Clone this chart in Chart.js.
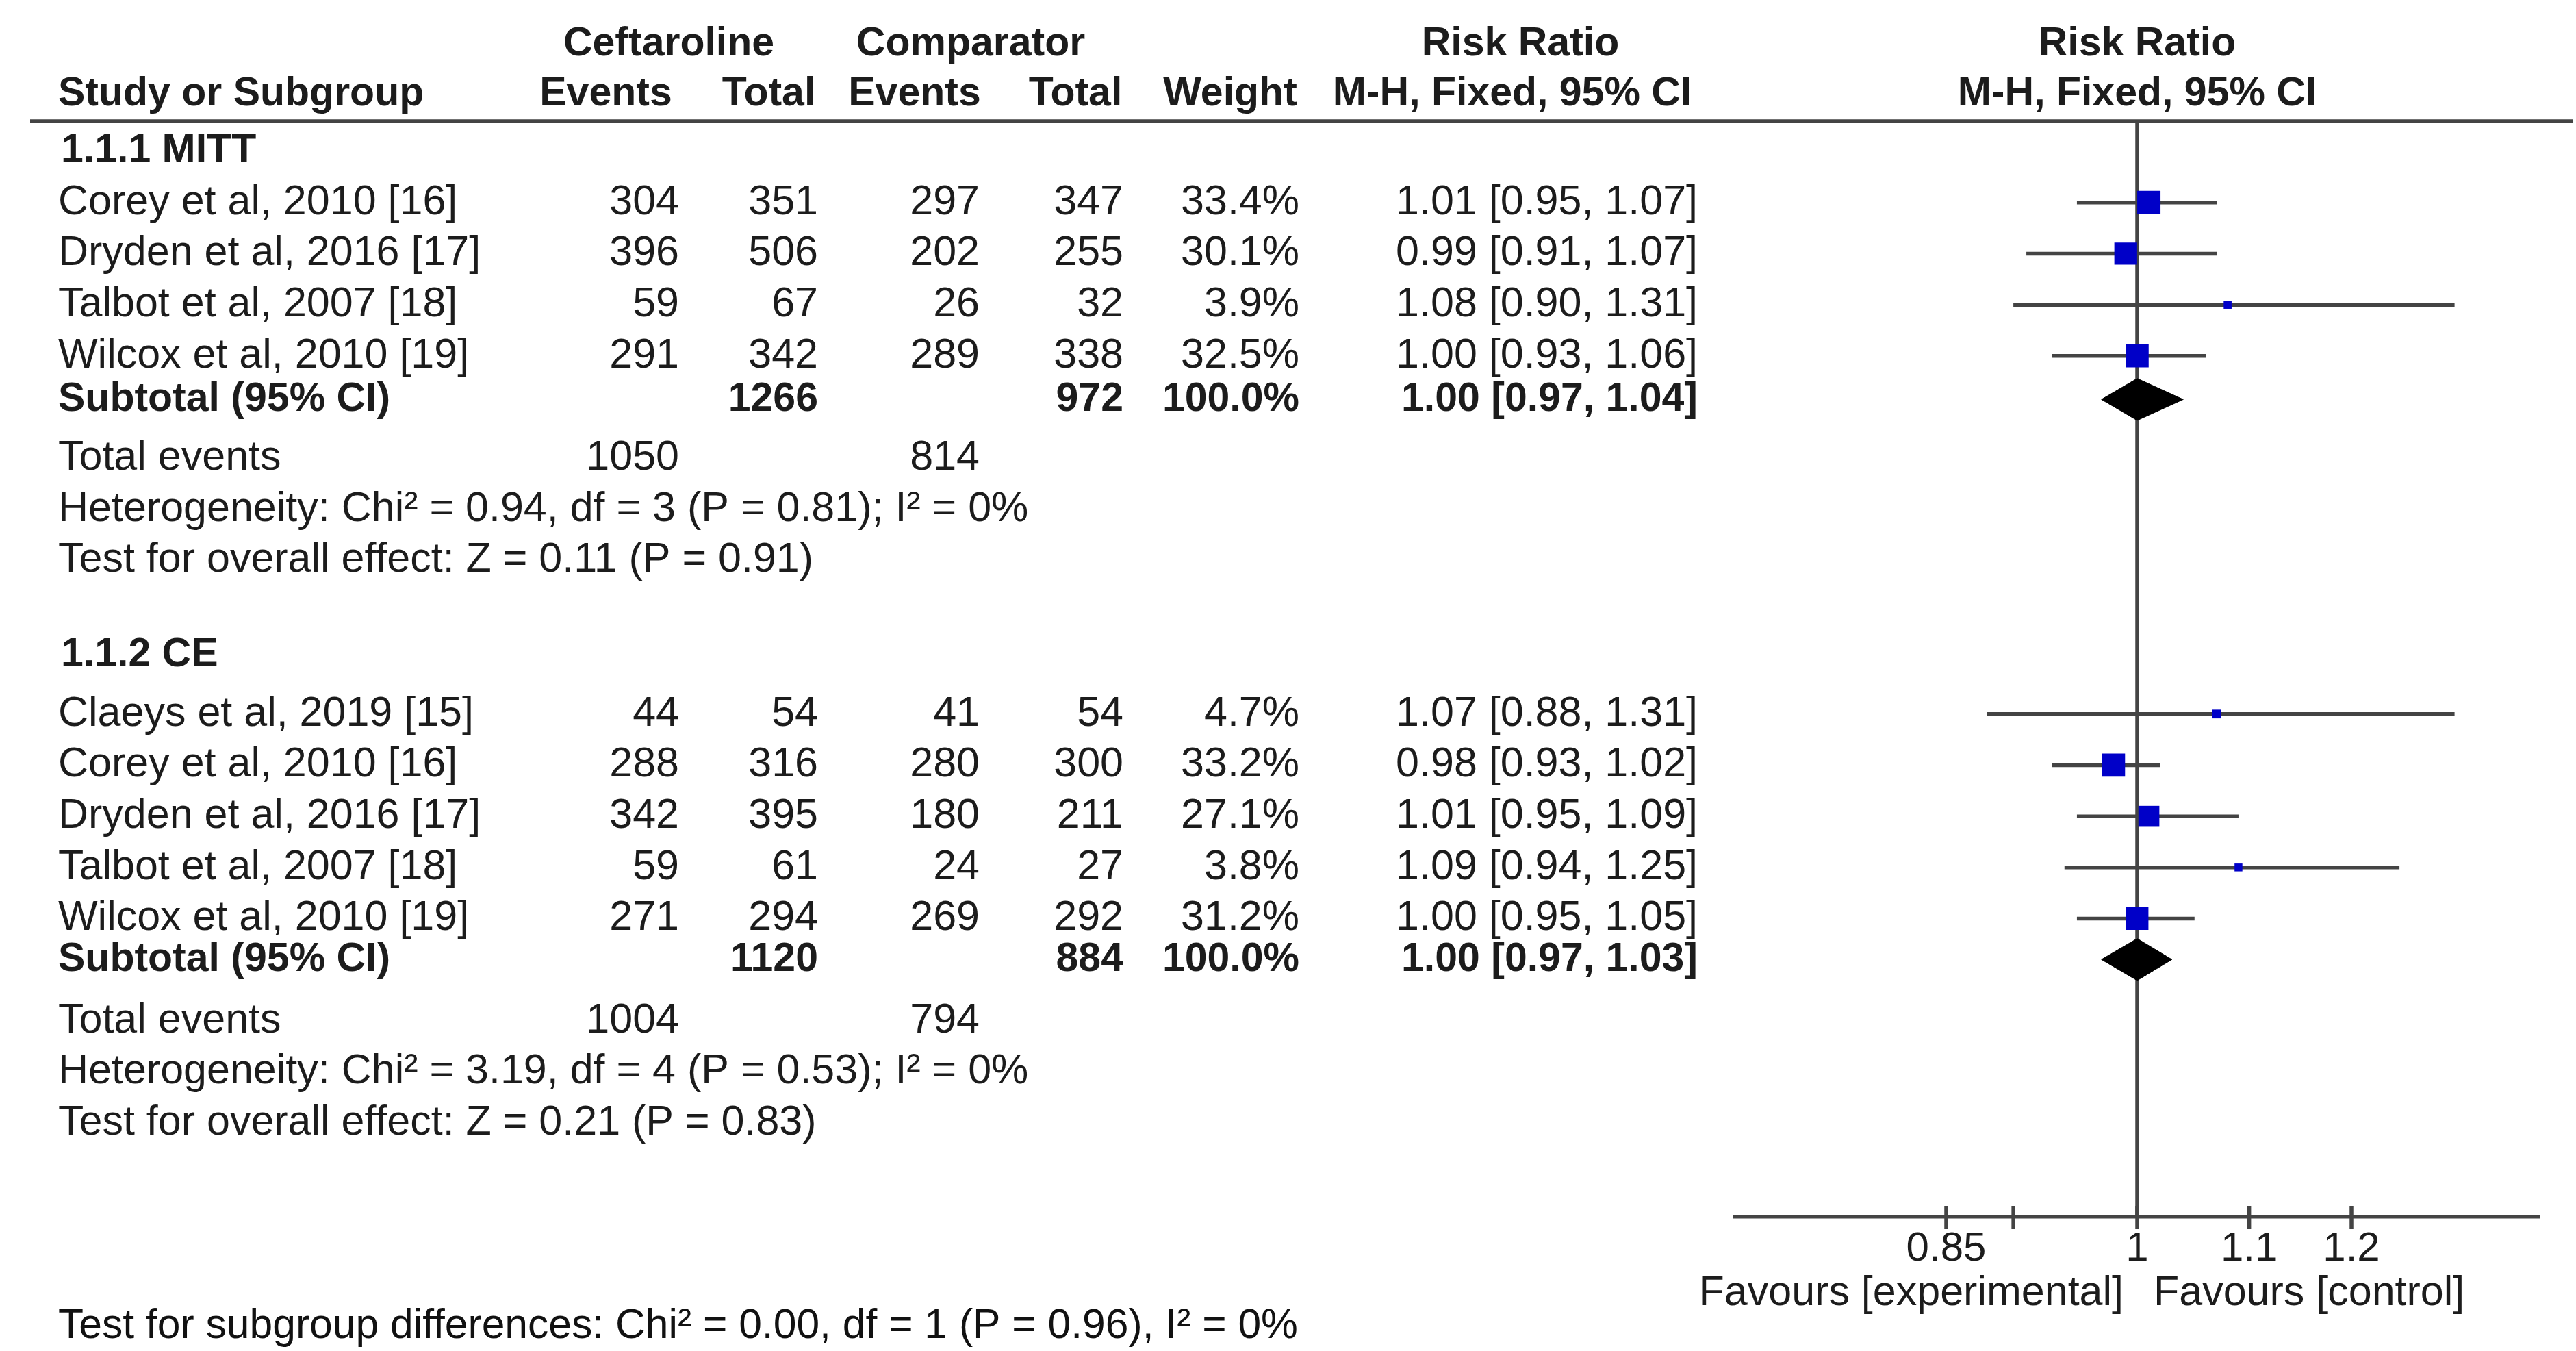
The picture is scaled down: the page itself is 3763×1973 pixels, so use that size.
<!DOCTYPE html>
<html>
<head>
<meta charset="utf-8">
<script src="https://cdn.jsdelivr.net/npm/chart.js@4.4.1/dist/chart.umd.min.js"></script>
<style>
  html, body { margin: 0; padding: 0; background: #ffffff; }
  canvas { display: block; }
</style>
</head>
<body>
<canvas id="forest" width="3763" height="1973" style="width:3763px;height:1973px"></canvas>
<script>
// ---- data: subgroup 1.1.1 MITT ----
const mittStudies = ['Corey et al, 2010 [16]', 'Dryden et al, 2016 [17]', 'Talbot et al, 2007 [18]', 'Wilcox et al, 2010 [19]'];
const mittCefEvents = [304, 396, 59, 291];
const mittCefTotal = [351, 506, 67, 342];
const mittCompEvents = [297, 202, 26, 289];
const mittCompTotal = [347, 255, 32, 338];
const mittWeight = [33.4, 30.1, 3.9, 32.5];
const mittRR = [1.01, 0.99, 1.08, 1.00];
const mittLow = [0.95, 0.91, 0.90, 0.93];
const mittHigh = [1.07, 1.07, 1.31, 1.06];
const mittSubtotal = [1266, 972, 100.0, 1.00, 0.97, 1.04]; // cef total, comp total, weight, rr, low, high
const mittTotalEvents = [1050, 814];
const mittHet = 'Heterogeneity: Chi² = 0.94, df = 3 (P = 0.81); I² = 0%';
const mittZ = 'Test for overall effect: Z = 0.11 (P = 0.91)';

// ---- data: subgroup 1.1.2 CE ----
const ceStudies = ['Claeys et al, 2019 [15]', 'Corey et al, 2010 [16]', 'Dryden et al, 2016 [17]', 'Talbot et al, 2007 [18]', 'Wilcox et al, 2010 [19]'];
const ceCefEvents = [44, 288, 342, 59, 271];
const ceCefTotal = [54, 316, 395, 61, 294];
const ceCompEvents = [41, 280, 180, 24, 269];
const ceCompTotal = [54, 300, 211, 27, 292];
const ceWeight = [4.7, 33.2, 27.1, 3.8, 31.2];
const ceRR = [1.07, 0.98, 1.01, 1.09, 1.00];
const ceLow = [0.88, 0.93, 0.95, 0.94, 0.95];
const ceHigh = [1.31, 1.02, 1.09, 1.25, 1.05];
const ceSubtotal = [1120, 884, 100.0, 1.00, 0.97, 1.03];
const ceTotalEvents = [1004, 794];
const ceHet = 'Heterogeneity: Chi² = 3.19, df = 4 (P = 0.53); I² = 0%';
const ceZ = 'Test for overall effect: Z = 0.21 (P = 0.83)';

const subgroupTest = 'Test for subgroup differences: Chi² = 0.00, df = 1 (P = 0.96), I² = 0%';

// ---- axis ----
const axisMin = 0.71;
const axisMax = 1 / 0.71;
const axisTicks = [0.85, 0.9, 1, 1.1, 1.2];
const axisTickLabels = ['0.85', '', '1', '1.1', '1.2'];
const favoursLeft = 'Favours [experimental]';
const favoursRight = 'Favours [control]';

// ---- layout / style ----
const COLORS = {
  text: '#1c1c1c',
  line: '#444444',
  box: '#0000c8',
  diamond: '#000000'
};
const FONT = "'Liberation Sans', Arial, sans-serif";
const FONT_SIZE = 61;
const BOLD_SIZE = 59;
const LINE_W = 5.5;
const BOX_SCALE = 5.88;      // box side in px per sqrt(weight %)
const DIAMOND_HALF = 0.41;   // diamond half height, in rows

// vertical slots: one unit = one table row
const ROWS = {
  mittHead: 0, mittStudies: [1, 2, 3, 4], mittSubtotal: 4.85, mittEvents: 6, mittHet: 7, mittZ: 8,
  ceHead: 9.85, ceStudies: [11, 12, 13, 14, 15], ceSubtotal: 15.8, ceEvents: 17, ceHet: 18, ceZ: 19
};
// right edges of table columns (name column is left aligned)
const COL = { name: 85, cefEvents: 992, cefTotal: 1195, compEvents: 1431, compTotal: 1641, weight: 1898, ci: 2480 };

function fmtCI(rr, lo, hi) {
  return `${rr.toFixed(2)} [${lo.toFixed(2)}, ${hi.toFixed(2)}]`;
}

function whiskerSets(low, high, rows) {
  return low.map((lo, i) => ({
    data: [{ x: lo, y: rows[i] }, { x: high[i], y: rows[i] }],
    borderColor: COLORS.line,
    borderWidth: LINE_W,
    pointRadius: 0,
    fill: false,
    order: 3
  }));
}

function boxSet(rr, weight, rows) {
  return {
    data: rr.map((v, i) => ({ x: v, y: rows[i] })),
    showLine: false,
    pointStyle: 'rect',
    pointRadius: weight.map((w) => BOX_SCALE * Math.sqrt(w) / Math.SQRT2),
    pointBackgroundColor: COLORS.box,
    pointBorderWidth: 0,
    order: 1
  };
}

function diamondSet(sub, row) {
  const rr = sub[3], lo = sub[4], hi = sub[5];
  return {
    data: [
      { x: lo, y: row }, { x: rr, y: row - DIAMOND_HALF }, { x: hi, y: row },
      { x: rr, y: row + DIAMOND_HALF }, { x: lo, y: row }
    ],
    borderColor: COLORS.diamond,
    borderWidth: 1,
    backgroundColor: COLORS.diamond,
    fill: 'shape',
    pointRadius: 0,
    tension: 0,
    order: 2
  };
}

function put(ctx, str, x, y, align, bold, maxWidth) {
  ctx.font = bold ? `bold ${BOLD_SIZE}px ${FONT}` : `${FONT_SIZE}px ${FONT}`;
  ctx.textAlign = align;
  ctx.textBaseline = 'middle';
  ctx.fillStyle = COLORS.text;
  if (maxWidth) ctx.fillText(str, x, y, maxWidth);
  else ctx.fillText(str, x, y);
}

function drawSubgroup(ctx, yScale, g) {
  const py = (v) => yScale.getPixelForValue(v);
  put(ctx, g.title, COL.name + 4, py(g.rows.head), 'left', true);
  g.studies.forEach((name, i) => {
    const y = py(g.rows.studies[i]);
    put(ctx, name, COL.name, y, 'left', false);
    put(ctx, String(g.cefEvents[i]), COL.cefEvents, y, 'right', false);
    put(ctx, String(g.cefTotal[i]), COL.cefTotal, y, 'right', false);
    put(ctx, String(g.compEvents[i]), COL.compEvents, y, 'right', false);
    put(ctx, String(g.compTotal[i]), COL.compTotal, y, 'right', false);
    put(ctx, `${g.weight[i].toFixed(1)}%`, COL.weight, y, 'right', false);
    put(ctx, fmtCI(g.rr[i], g.low[i], g.high[i]), COL.ci, y, 'right', false);
  });
  const ys = py(g.rows.subtotal);
  put(ctx, 'Subtotal (95% CI)', COL.name, ys, 'left', true);
  put(ctx, String(g.subtotal[0]), COL.cefTotal, ys, 'right', true);
  put(ctx, String(g.subtotal[1]), COL.compTotal, ys, 'right', true);
  put(ctx, `${g.subtotal[2].toFixed(1)}%`, COL.weight, ys, 'right', true);
  put(ctx, fmtCI(g.subtotal[3], g.subtotal[4], g.subtotal[5]), COL.ci, ys, 'right', true);
  const ye = py(g.rows.events);
  put(ctx, 'Total events', COL.name, ye, 'left', false);
  put(ctx, String(g.totalEvents[0]), COL.cefEvents, ye, 'right', false);
  put(ctx, String(g.totalEvents[1]), COL.compEvents, ye, 'right', false);
  put(ctx, g.het, COL.name, py(g.rows.het), 'left', false);
  put(ctx, g.z, COL.name, py(g.rows.z), 'left', false);
}

const forestTable = {
  id: 'forestTable',
  beforeDatasetsDraw(chart) {
    const { ctx, chartArea, scales: { x } } = chart;
    const x1 = x.getPixelForValue(1);
    ctx.save();
    ctx.strokeStyle = COLORS.line;
    ctx.lineWidth = LINE_W;
    ctx.beginPath();
    ctx.moveTo(x1, chartArea.top);
    ctx.lineTo(x1, chartArea.bottom);
    ctx.stroke();
    ctx.restore();
  },
  afterDraw(chart) {
    const { ctx, chartArea, scales: { x, y } } = chart;
    ctx.save();

    // column headers
    const h1 = 65, h2 = 138;
    const plotMid = (chartArea.left + chartArea.right) / 2;
    put(ctx, 'Ceftaroline', 977, h1, 'center', true);
    put(ctx, 'Comparator', 1418, h1, 'center', true);
    put(ctx, 'Risk Ratio', 2221, h1, 'center', true);
    put(ctx, 'Risk Ratio', plotMid, h1, 'center', true);
    put(ctx, 'Study or Subgroup', COL.name, h2, 'left', true);
    put(ctx, 'Events', 885, h2, 'center', true);
    put(ctx, 'Total', 1123, h2, 'center', true);
    put(ctx, 'Events', 1336, h2, 'center', true);
    put(ctx, 'Total', 1571, h2, 'center', true);
    put(ctx, 'Weight', 1797, h2, 'center', true);
    put(ctx, 'M-H, Fixed, 95% CI', 2209, h2, 'center', true);
    put(ctx, 'M-H, Fixed, 95% CI', plotMid, h2, 'center', true);

    // header rule
    ctx.strokeStyle = COLORS.line;
    ctx.lineWidth = LINE_W;
    ctx.beginPath();
    ctx.moveTo(44, chartArea.top);
    ctx.lineTo(3758, chartArea.top);
    ctx.stroke();

    drawSubgroup(ctx, y, {
      title: '1.1.1 MITT', studies: mittStudies, cefEvents: mittCefEvents, cefTotal: mittCefTotal,
      compEvents: mittCompEvents, compTotal: mittCompTotal, weight: mittWeight, rr: mittRR,
      low: mittLow, high: mittHigh, subtotal: mittSubtotal, totalEvents: mittTotalEvents,
      het: mittHet, z: mittZ,
      rows: { head: ROWS.mittHead, studies: ROWS.mittStudies, subtotal: ROWS.mittSubtotal, events: ROWS.mittEvents, het: ROWS.mittHet, z: ROWS.mittZ }
    });
    drawSubgroup(ctx, y, {
      title: '1.1.2 CE', studies: ceStudies, cefEvents: ceCefEvents, cefTotal: ceCefTotal,
      compEvents: ceCompEvents, compTotal: ceCompTotal, weight: ceWeight, rr: ceRR,
      low: ceLow, high: ceHigh, subtotal: ceSubtotal, totalEvents: ceTotalEvents,
      het: ceHet, z: ceZ,
      rows: { head: ROWS.ceHead, studies: ROWS.ceStudies, subtotal: ROWS.ceSubtotal, events: ROWS.ceEvents, het: ROWS.ceHet, z: ROWS.ceZ }
    });

    // tick marks crossing the axis line
    ctx.strokeStyle = COLORS.line;
    ctx.lineWidth = LINE_W;
    axisTicks.forEach((t) => {
      const px = x.getPixelForValue(t);
      ctx.beginPath();
      ctx.moveTo(px, chartArea.bottom - 16);
      ctx.lineTo(px, chartArea.bottom + 18);
      ctx.stroke();
    });

    // favours labels
    const x1 = x.getPixelForValue(1);
    put(ctx, favoursLeft, x1 - 20, 1889, 'right', false);
    put(ctx, favoursRight, x1 + 24, 1889, 'left', false);

    // subgroup differences footnote
    ctx.font = `${FONT_SIZE}px ${FONT}`;
    ctx.textAlign = 'left';
    ctx.textBaseline = 'middle';
    ctx.fillStyle = '#111111';
    ctx.fillText(subgroupTest, 85, 1937, 1811);

    ctx.restore();
  }
};

const datasets = [
  boxSet(mittRR, mittWeight, ROWS.mittStudies),
  boxSet(ceRR, ceWeight, ROWS.ceStudies),
  diamondSet(mittSubtotal, ROWS.mittSubtotal),
  diamondSet(ceSubtotal, ROWS.ceSubtotal),
  ...whiskerSets(mittLow, mittHigh, ROWS.mittStudies),
  ...whiskerSets(ceLow, ceHigh, ROWS.ceStudies)
];

new Chart(document.getElementById('forest').getContext('2d'), {
  type: 'line',
  data: { datasets },
  options: {
    responsive: false,
    animation: false,
    devicePixelRatio: 1,
    events: [],
    layout: { padding: { top: 177, left: 2534, right: 53, bottom: 0 } },
    plugins: { legend: { display: false }, tooltip: { enabled: false } },
    scales: {
      x: {
        type: 'logarithmic',
        position: 'bottom',
        min: axisMin,
        max: axisMax,
        bounds: 'data',
        afterBuildTicks: (scale) => { scale.ticks = axisTicks.map((v) => ({ value: v })); },
        afterFit: (scale) => { scale.height = 196; },
        grid: { display: false, drawTicks: false },
        border: { display: true, color: COLORS.line, width: LINE_W },
        ticks: {
          autoSkip: false,
          maxRotation: 0,
          padding: 11,
          color: COLORS.text,
          font: { family: FONT, size: 60 },
          callback: (value, index) => axisTickLabels[index]
        }
      },
      y: {
        type: 'linear',
        display: false,
        reverse: true,
        min: -0.59,
        max: 20.83,
        bounds: 'data'
      }
    }
  },
  plugins: [forestTable]
});
</script>
</body>
</html>
